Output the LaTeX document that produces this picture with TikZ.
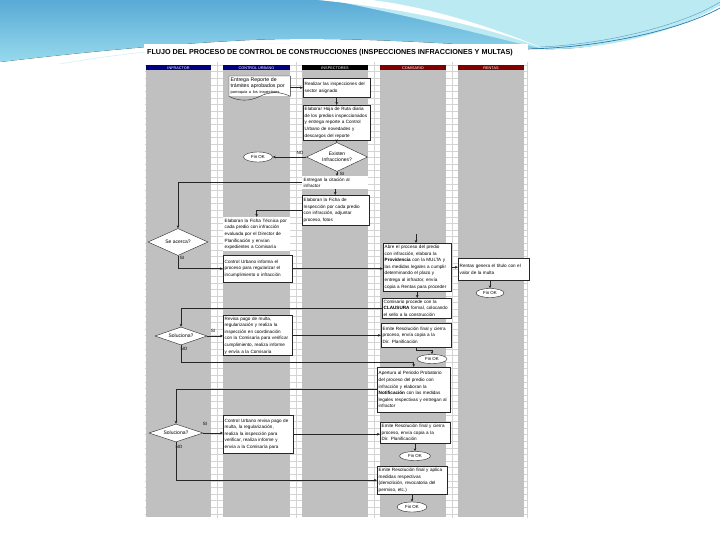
\documentclass[tikz,border=0pt]{standalone}
\usepackage{fontspec}
\setmainfont{Liberation Sans}
\usetikzlibrary{arrows.meta,shapes.geometric}

\definecolor{lanegray}{RGB}{192,192,192}
\definecolor{gridgray}{RGB}{212,212,212}
\definecolor{headblue}{RGB}{0,0,128}
\definecolor{headred}{RGB}{128,0,0}
\definecolor{skyblue}{RGB}{90,170,215}
\definecolor{skylight}{RGB}{150,218,236}
\definecolor{skypale}{RGB}{188,234,243}
\definecolor{skydeep}{RGB}{35,125,175}

\newcommand{\boxfont}{\fontsize{4.6}{6.6}\selectfont}

\tikzset{
  procbox/.style={draw=black!85, fill=white, line width=0.4pt, anchor=north west,
    align=left, font=\boxfont, inner sep=1.5pt},
  notebox/.style={procbox, draw=none},
  decision/.style={diamond, draw=black!85, fill=white, line width=0.4pt, inner sep=0pt,
    font=\fontsize{5}{5.8}\selectfont, align=center},
  endnode/.style={ellipse, draw=black!85, fill=white, line width=0.4pt, inner sep=0pt,
    font=\fontsize{4.4}{5}\selectfont},
  flow/.style={-{Stealth[length=3pt,width=2.6pt]}, line width=0.5pt, black!85},
  lanehead/.style={text=white, font=\fontsize{3.8}{4}\selectfont, inner sep=0pt},
  answer/.style={font=\fontsize{4.6}{5}\selectfont, inner sep=0pt}
}

\begin{document}
\begin{tikzpicture}[x=1pt,y=-1pt]
  \useasboundingbox (0,0) rectangle (720,540);
  \fill[white] (0,0) rectangle (720,540);

  % slide decoration
  \fill[top color=skyblue, bottom color=skylight] (0,0) -- (720,0) -- (720,5)
    .. controls (650,35) and (600,50) .. (545,49)
    .. controls (450,44) and (350,36) .. (250,40)
    .. controls (150,45) and (60,55) .. (0,62) -- cycle;
  \fill[skypale] (330,0) .. controls (440,22) and (500,40) .. (545,49)
    .. controls (620,50) and (690,25) .. (720,5) -- (720,0) -- cycle;
  \fill[white] (318,0) .. controls (420,10) and (495,30) .. (545,49)
    .. controls (480,22) and (420,6) .. (372,0) -- cycle;
  \draw[skydeep, line width=0.7pt] (525,49) .. controls (600,48) and (680,30) .. (720,8);
  \draw[skydeep!70, line width=0.5pt] (540,47) .. controls (610,44) and (685,24) .. (720,2);
  \draw[white, line width=0.8pt] (40,66) .. controls (120,50) and (220,40) .. (310,40);
  \draw[white!60!skylight, line width=0.6pt] (60,64) .. controls (140,50) and (230,43) .. (300,44);

  % sheet
  \fill[white] (144,44) rectangle (528,519);
  \foreach \y in {64.9,71.5,...,518} {
    \draw[gridgray, line width=0.3pt] (145,\y) -- (527,\y);
  }
  \foreach \x in {217,296.5,374,452,527} {
    \draw[gridgray, line width=0.3pt] (\x,62) -- (\x,518);
  }
  \node[font=\bfseries\fontsize{7.2}{8}\selectfont, inner sep=0pt] (title) at (330,53)
    {FLUJO DEL PROCESO DE CONTROL DE CONSTRUCCIONES (INSPECCIONES INFRACCIONES Y MULTAS)};

  % lanes
  \fill[lanegray] (146,70.5) rectangle (211,517);
  \fill[lanegray] (223,70.5) rectangle (290,517);
  \fill[lanegray] (302,70.5) rectangle (368,517);
  \fill[lanegray] (380,70.5) rectangle (446,517);
  \fill[lanegray] (458,70.5) rectangle (524,517);
  \fill[headblue] (146,65.5) rectangle (211,70.5);
  \fill[headblue] (223,65.5) rectangle (290,70.5);
  \fill[black] (302,65.5) rectangle (368,70.5);
  \fill[headred] (380,65.5) rectangle (446,70.5);
  \fill[headred] (458,65.5) rectangle (524,70.5);
  \node[lanehead] (hinf) at (178.5,68) {INFRACTOR};
  \node[lanehead] (hcu) at (256.5,68) {CONTROL URBANO};
  \node[lanehead] (hins) at (335,68) {INSPECTORES};
  \node[lanehead] (hcom) at (413,68) {COMISARIO};
  \node[lanehead] (hren) at (491,68) {RENTAS};

  % nodes
  \node[notebox, text width=58pt, minimum height=20pt, font=\fontsize{5.2}{6}\selectfont] (rep) at (229,76)
    {Entrega Reporte de\\ trámites aprobados por\\ {\fontsize{3.9}{5}\selectfont parroquia a los inspectores}};
  \draw[black!85, line width=0.4pt] (rep.south east) -- (rep.north east) -- (rep.north west) -- (rep.south west)
    .. controls +(10,5) and +(-10,5) .. (rep.south)
    .. controls +(10,-5) and +(-10,-5) .. (rep.south east);
  \node[procbox, text width=64pt, minimum height=19pt] (insp) at (303,78)
    {Realizar las inspecciones del\\ sector asignado};
  \node[procbox, text width=64pt, minimum height=35pt] (hoja) at (303,105)
    {Elaborar Hoja de Ruta diaria\\ de los predios inspeccionados\\ y entrega reporte a Control\\ Urbano de novedades y\\ descargos del reporte};
  \node[decision, aspect=2.2, minimum width=61pt, minimum height=29pt] (exist) at (337,157)
    {Existen\\ Infracciones?};
  \node[endnode, minimum width=29pt, minimum height=10pt] (fin1) at (258,157) {Fin OK};
  \node[notebox, text width=63pt, minimum height=12pt] (cita) at (302,176)
    {Entregan la citación al\\ infractor};
  \node[procbox, text width=64pt, minimum height=30pt] (ficha) at (302,195)
    {Elaboran la Ficha de\\ Inspección por cada predio\\ con infracción, adjuntar\\ proceso, fotos};
  \node[decision, aspect=2.2, minimum width=60pt, minimum height=27pt] (acerca) at (178,242) {Se acerca?};
  \node[notebox, text width=64pt, minimum height=34pt] (tecnica) at (223,217)
    {Elaboran la Ficha Técnica por\\ cada predio con infracción\\ evaluada por el Director de\\ Planificación y envían\\ expedientes a Comisaría};
  \node[procbox, text width=66pt, minimum height=27pt] (informa) at (223,255)
    {Control Urbano informa el\\ proceso para regularizar el\\ incumplimiento o infracción};
  \node[procbox, text width=65pt, minimum height=48pt] (multa) at (383,243)
    {Abre el proceso del predio\\ con infracción, elabora la\\ \textbf{Providencia} con la MULTA y\\ las medidas legales a cumplir\\ determinando el plazo y\\ entrega al infractor, envía\\ copia a Rentas para proceder};
  \node[procbox, text width=68pt, minimum height=22pt] (rentas) at (458,258)
    {Rentas genera el título con el\\ valor de la multa};
  \node[endnode, minimum width=28pt, minimum height=9pt] (fin2) at (490,293) {Fin OK};
  \node[procbox, text width=66pt, minimum height=20pt] (clausura) at (382,298)
    {Comisario procede con la\\ \textbf{CLAUSURA} formal, colocando\\ el sello a la construcción};
  \node[decision, aspect=2.9, minimum width=52pt, minimum height=18pt] (solu1) at (181,336) {Soluciona?};
  \node[procbox, text width=66pt, minimum height=40pt] (revisa1) at (223,315)
    {Revisa pago de multa,\\ regularización y realiza la\\ inspección en coordinación\\ con la Comisaría para verificar\\ cumplimiento, realiza informe\\ y envía a la Comisaría};
  \node[procbox, text width=67pt, minimum height=24pt] (cierre1) at (381,323)
    {Emite Resolución final y cierra\\ proceso, envía copia a la\\ Dir. Planificación};
  \node[endnode, minimum width=30pt, minimum height=9pt] (fin3) at (432,359) {Fin OK};
  \node[procbox, text width=70pt, minimum height=45pt] (aper) at (377,367)
    {Apertura al Periodo Probatorio\\ del proceso del predio con\\ infracción y elaboran la\\ \textbf{Notificación} con las medidas\\ legales respectivas y entregan al\\ infractor};
  \node[decision, aspect=2.9, minimum width=54pt, minimum height=18pt] (solu2) at (176,433) {Soluciona?};
  \node[procbox, text width=67pt, minimum height=38pt] (revisa2) at (223,415)
    {Control Urbano revisa pago de\\ multa, la regularización,\\ realiza la inspección para\\ verificar, realiza informe y\\ envía a la Comisaría para};
  \node[procbox, text width=67pt, minimum height=21pt] (cierre2) at (380,422)
    {Emite Resolución final y cierra\\ proceso, envía copia a la\\ Dir. Planificación};
  \node[endnode, minimum width=31pt, minimum height=9pt] (fin4) at (415,456) {Fin OK};
  \node[procbox, text width=67pt, minimum height=28pt] (aplica) at (377,466)
    {Emite Resolución final y aplica\\ medidas respectivas\\ (demolición, revocatoria del\\ permiso, etc.)};
  \node[endnode, minimum width=30pt, minimum height=10pt] (fin5) at (412,507) {Fin OK};

  % answers
  \node[answer] (no1) at (300,153) {NO};
  \node[answer] (si1) at (342,174) {SI};
  \node[answer] (si2) at (182,258) {SI};
  \node[answer] (si3) at (213,331) {SI};
  \node[answer] (no3) at (184,349) {NO};
  \node[answer] (si4) at (205,424) {SI};
  \node[answer] (no4) at (179,447) {NO};

  % connectors
  \draw[flow] (insp.west -| rep.east) -- (insp.west);
  \draw[flow] (insp) -- (hoja);
  \draw[flow] (hoja.south) -- (hoja.south |- exist.north);
  \draw[flow] (exist) -- (fin1);
  \draw[flow] (exist.south) -- (exist.south |- cita.north);
  \draw[flow] (cita.south) -- (cita.south |- ficha.north);
  \draw[flow] (cita.west) -| (acerca.north);
  \draw[flow] (ficha.west) -| (tecnica.north);
  \draw[flow] (acerca.south) |- (informa.west);
  \draw[flow] (informa.east) -- (informa.east -| multa.west);
  \coordinate (fromcu) at (416,234);
  \draw[flow] (fromcu) -- (fromcu |- multa.north);
  \draw[flow] (multa.east) -- (multa.east -| rentas.west);
  \draw[flow] (rentas.south -| fin2.north) -- (fin2.north);
  \draw[flow] (multa.south) -- (multa.south |- clausura.north);
  \draw[flow] (clausura.west) -| (solu1.north);
  \draw[flow] (solu1.east) -- (solu1.east -| revisa1.west);
  \draw[flow] (revisa1.east) -- (revisa1.east -| cierre1.west);
  \draw[flow] (cierre1.south) -- ++(0,3) -| (fin3.north);
  \draw[flow] (solu1.south) |- ([yshift=5pt]aper.north) -- (aper.north);
  \draw[flow] (aper.west) -| (solu2.north);
  \draw[flow] (solu2.east) -- (solu2.east -| revisa2.west);
  \draw[flow] (revisa2.east) -- (revisa2.east -| cierre2.west);
  \draw[flow] (cierre2.south -| fin4.north) -- (fin4.north);
  \draw[flow] (solu2.south) |- (aplica.west);
  \draw[flow] (aplica.south -| fin5.north) -- (fin5.north);
\end{tikzpicture}
\end{document}
